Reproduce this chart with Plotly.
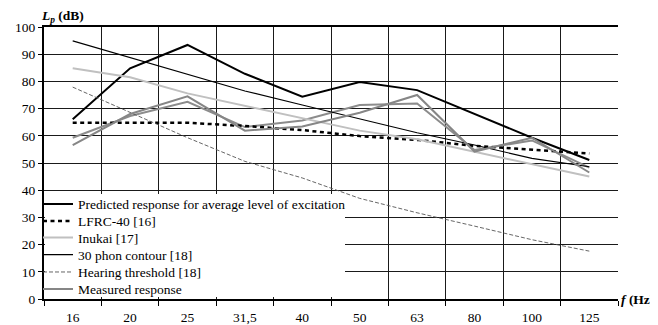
import plotly.graph_objects as go

categories = ["16", "20", "25", "31,5", "40", "50", "63", "80", "100", "125"]

predicted = [66.1, 84.8, 93.4, 82.8, 74.4, 79.8, 76.8, 68.1, 59.3, 51.1]
lfrc40 = [64.8, 64.8, 64.8, 63.6, 62.1, 59.9, 58.5, 56.3, 55.0, 53.5]
inukai = [84.8, 81.5, 75.6, 71.0, 66.4, 61.9, 58.7, 54.2, 49.5, 45.0]
phon30 = [94.9, 88.7, 82.6, 76.5, 71.3, 66.2, 61.1, 56.6, 51.7, 48.6]
threshold = [77.9, 68.6, 59.3, 50.6, 44.5, 37.0, 31.7, 26.8, 21.8, 17.6]
measured_a = [56.6, 68.0, 74.5, 61.9, 63.4, 68.5, 75.0, 54.2, 59.3, 46.5]
measured_b = [59.3, 67.3, 72.5, 63.2, 65.6, 71.3, 71.9, 54.8, 58.3, 48.3]

y_ticks = list(range(0, 101, 10))

SERIF = "Liberation Serif"
FS = 13.5

# The page body has an 8px margin, so the figure is drawn 8px in from the top-left.
OFF = 8
W, H = 658 - OFF, 325 - OFF
ML, MR, MT, MB = 44 - OFF, 40, 27 - OFF, 26
PW, PH = W - ML - MR, H - MT - MB


def px_x(x):
    # window pixel -> paper coordinate
    return (x - OFF - ML) / PW


def px_y(y):
    return (H - MB - (y - OFF)) / PH


fig = go.Figure()

fig.add_trace(go.Scatter(x=categories, y=measured_b, mode="lines", name="Measured response (2)",
                         line=dict(color="#8c8c8c", width=2), showlegend=False))
fig.add_trace(go.Scatter(x=categories, y=predicted, mode="lines",
                         name="Predicted response for average level of excitation",
                         line=dict(color="#000000", width=2), legend="legend"))
fig.add_trace(go.Scatter(x=categories, y=lfrc40, mode="lines", name="LFRC-40 [16]",
                         line=dict(color="#000000", width=2.5, dash="4px,3.5px"), legend="legend2"))
fig.add_trace(go.Scatter(x=categories, y=inukai, mode="lines", name="Inukai [17]",
                         line=dict(color="#c0c0c0", width=2), legend="legend3"))
fig.add_trace(go.Scatter(x=categories, y=phon30, mode="lines", name="30 phon contour [18]",
                         line=dict(color="#000000", width=1.1), legend="legend4"))
fig.add_trace(go.Scatter(x=categories, y=threshold, mode="lines", name="Hearing threshold [18]",
                         line=dict(color="#555555", width=0.9, dash="4px,2px"), legend="legend5"))
fig.add_trace(go.Scatter(x=categories, y=measured_a, mode="lines", name="Measured response",
                         line=dict(color="#868686", width=2), legend="legend6"))

row_centers = [204, 221, 237.5, 254.7, 272, 289]
legend_common = dict(xanchor="left", yanchor="top", bgcolor="rgba(0,0,0,0)", borderwidth=0,
                     font=dict(family=SERIF, size=FS, color="black"), itemwidth=30)
legends = {}
for i, cy in enumerate(row_centers):
    key = "legend" if i == 0 else f"legend{i + 1}"
    legends[key] = dict(x=px_x(38), y=px_y(cy - 15.3), **legend_common)

fig.update_layout(
    width=W, height=H,
    margin=dict(l=ML, r=MR, t=MT, b=MB, autoexpand=False),
    paper_bgcolor="white", plot_bgcolor="white",
    separators=",.",
    font=dict(family=SERIF, size=FS, color="black"),
    showlegend=True,
    xaxis=dict(type="category", categoryorder="array", categoryarray=categories,
               range=[-0.5, 9.5], tickson="boundaries", ticks="outside", ticklen=5,
               tickcolor="black", tickwidth=1, automargin=False,
               showline=True, linecolor="black", linewidth=2, mirror=True,
               showgrid=True, gridcolor="#1a1a1a", gridwidth=1,
               tickfont=dict(family=SERIF, size=FS), ticklabelstandoff=5),
    yaxis=dict(range=[0, 100], tickvals=y_ticks, ticks="outside", ticklen=4,
               tickcolor="black", tickwidth=1, automargin=False,
               showline=True, linecolor="black", linewidth=2,
               showgrid=True, gridcolor="#1a1a1a", gridwidth=1, zeroline=False,
               tickfont=dict(family=SERIF, size=FS), ticklabelstandoff=0),
    shapes=[dict(type="rect", xref="paper", yref="paper", x0=px_x(45), x1=px_x(345),
                 y0=px_y(297), y1=px_y(194),
                 fillcolor="white", line=dict(width=0), layer="above")],
    annotations=[
        dict(text="<b><i>L</i></b><sub><b><i>p</i></b></sub> <b>(dB)</b>", xref="paper", yref="paper",
             x=px_x(39), y=px_y(17), xanchor="left", yanchor="middle", showarrow=False,
             font=dict(family=SERIF, size=FS)),
        dict(text="<b><i>f</i></b> <b>(Hz)</b>", xref="paper", yref="paper",
             x=px_x(619), y=px_y(299), xanchor="left", yanchor="middle", showarrow=False,
             font=dict(family=SERIF, size=FS)),
    ],
    **legends,
)

fig.write_html("out.html")
